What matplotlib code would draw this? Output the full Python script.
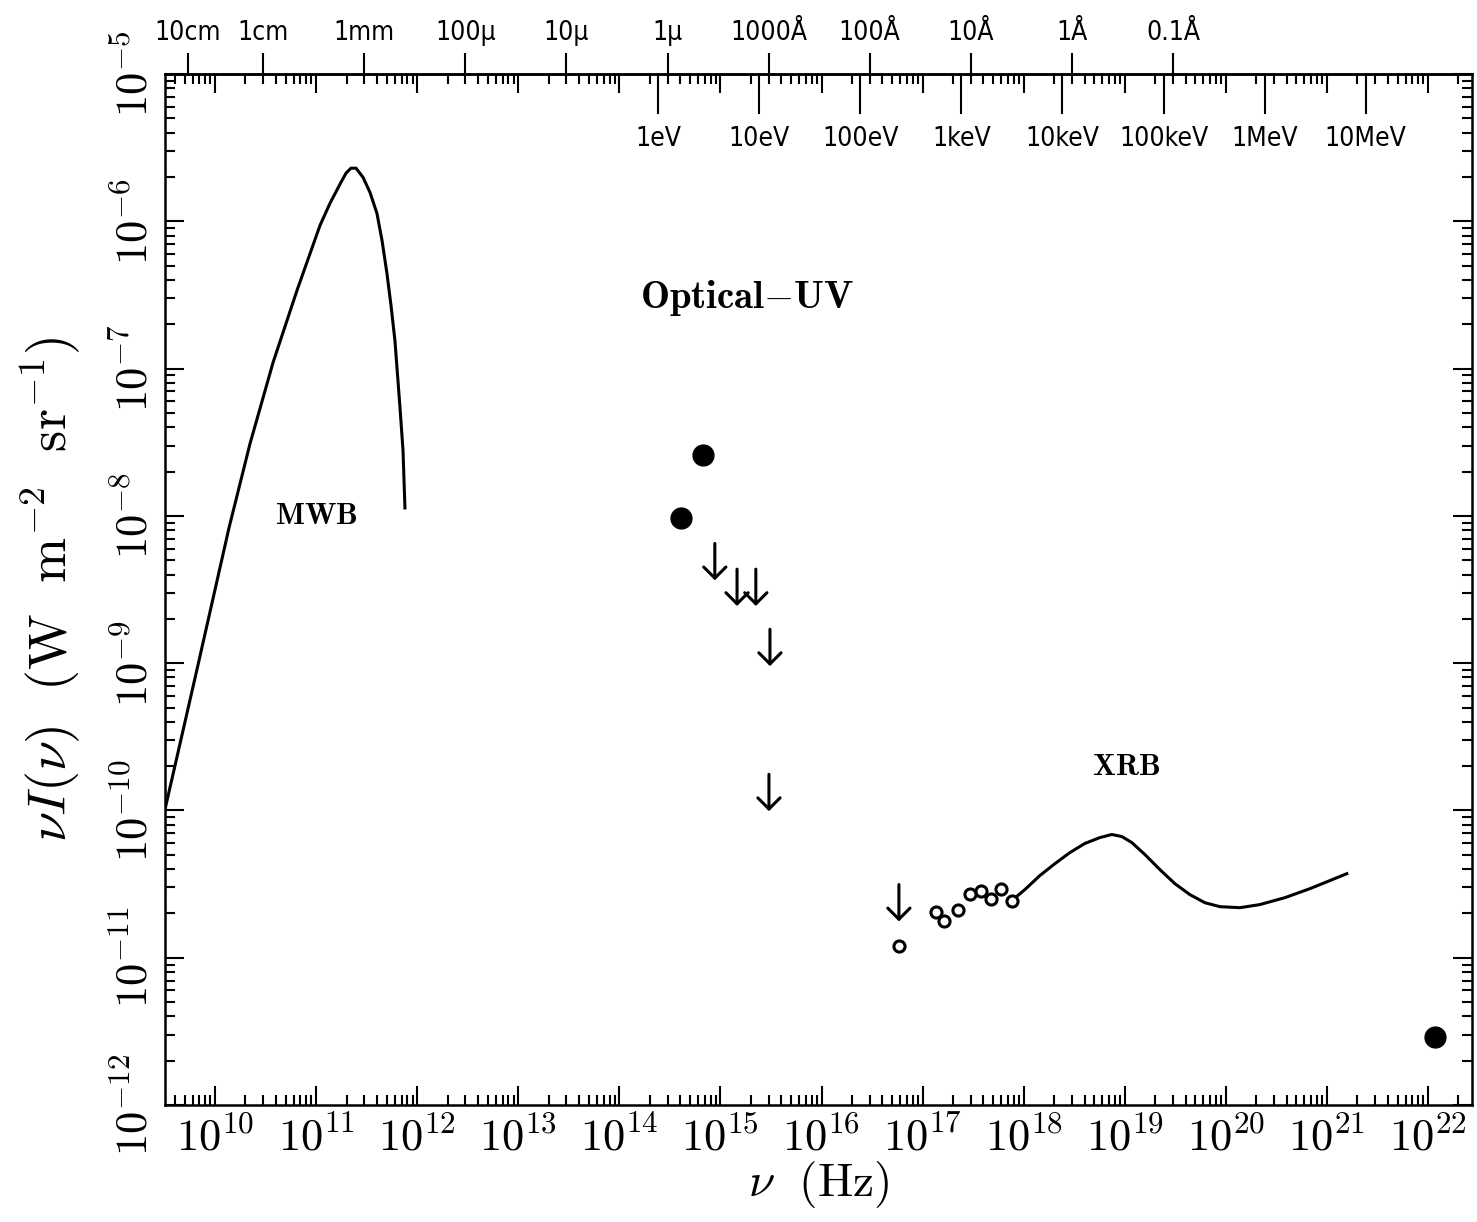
import numpy as np
import matplotlib.pyplot as plt
from matplotlib.ticker import FixedLocator, NullLocator, LogLocator

plt.rcParams['mathtext.fontset'] = 'cm'
plt.rcParams['font.family'] = ['DejaVu Serif']

# microwave background curve, log10 values
mwb_lognu = [9.505, 9.822, 10.138, 10.346, 10.574, 10.811, 11.039, 11.137, 11.236, 11.296,
             11.345, 11.395, 11.464, 11.533, 11.602, 11.652, 11.701, 11.741, 11.780, 11.830,
             11.860, 11.879]
mwb_logval = [-9.993, -9.041, -8.082, -7.510, -6.959, -6.469, -6.027, -5.878, -5.748, -5.673,
              -5.639, -5.639, -5.701, -5.803, -5.946, -6.129, -6.354, -6.571, -6.810, -7.265,
              -7.558, -7.946]

# optical-UV detections and upper limits
opt_nu = [4.06e14, 6.7e14]
opt_val = [9.7e-9, 2.6e-8]
lim_nu = [8.8e14, 1.46e15, 2.24e15, 3.09e15, 3.02e15, 5.83e16]
lim_val = [6.5e-9, 4.35e-9, 4.35e-9, 1.70e-9, 1.76e-10, 3.14e-11]

# soft X-ray points
xs_nu = [5.83e16, 1.36e17, 1.63e17, 2.24e17, 2.94e17, 3.78e17, 4.74e17, 5.96e17, 7.64e17]
xs_val = [1.21e-11, 2.06e-11, 1.79e-11, 2.12e-11, 2.69e-11, 2.86e-11, 2.52e-11, 2.94e-11, 2.44e-11]

# X-ray background curve, log10 values
xrb_lognu = [17.883, 18.012, 18.160, 18.309, 18.457, 18.605, 18.754, 18.872, 18.971, 19.070,
             19.199, 19.347, 19.496, 19.644, 19.792, 19.941, 20.139, 20.336, 20.584, 20.831,
             21.029, 21.197]
xrb_logval = [-10.612, -10.537, -10.442, -10.361, -10.286, -10.224, -10.184, -10.163, -10.177,
              -10.218, -10.299, -10.401, -10.497, -10.571, -10.626, -10.653, -10.660, -10.639,
              -10.592, -10.531, -10.476, -10.429]

# gamma-ray point
gam_nu = [1.17e22]
gam_val = [2.9e-12]

# top axis labels
wave_cm = np.array([10, 1, 0.1, 0.01, 1e-3, 1e-4, 1e-5, 1e-6, 1e-7, 1e-8, 1e-9])
wave_lab = ['10cm', '1cm', '1mm', '100µ', '10µ', '1µ', '1000Å', '100Å', '10Å', '1Å', '0.1Å']
en_ev = np.array([1, 10, 100, 1e3, 1e4, 1e5, 1e6, 1e7])
en_lab = ['1eV', '10eV', '100eV', '1keV', '10keV', '100keV', '1MeV', '10MeV']

wave_nu = 3e10 / wave_cm
wave_nu[0] = 5.4e9  # the original draws the 10cm mark just inside the frame
en_nu = en_ev * 2.418e14

fig = plt.figure(figsize=(14.77, 12.22), dpi=100)
ax = fig.add_axes([0.1117, 0.0957, 0.8849, 0.8437])
ax.set_xscale('log')
ax.set_yscale('log')
ax.set_xlim(10**9.505, 10**22.435)
ax.set_ylim(1e-12, 1e-5)

ax.plot(10**np.array(mwb_lognu), 10**np.array(mwb_logval), color='black', lw=2.2)
ax.plot(10**np.array(xrb_lognu), 10**np.array(xrb_logval), color='black', lw=2.2)
ax.plot(opt_nu, opt_val, 'o', color='black', ms=15)
ax.plot(gam_nu, gam_val, 'o', color='black', ms=15)
ax.plot(xs_nu, xs_val, 'o', mfc='white', mec='black', ms=8, mew=2.2)
for n, v in zip(lim_nu, lim_val):
    ax.annotate('', xy=(n, v * 10**-0.25), xytext=(n, v),
                arrowprops=dict(arrowstyle='->, head_length=0.4, head_width=0.4',
                                lw=2.2, color='black', shrinkA=0, shrinkB=0,
                                mutation_scale=20))

ax.text(1.0e11, 1e-8, r'$\mathbf{MWB}$', fontsize=22, ha='center', va='center')
ax.text(1.83e15, 3.0e-7, r'$\mathbf{Optical}$' + r'$-$' + r'$\mathbf{UV}$',
        fontsize=28, ha='center', va='center')
ax.text(1.03e19, 2.0e-10, r'$\mathbf{XRB}$', fontsize=22, ha='center', va='center')

for s in ax.spines.values():
    s.set_linewidth(1.8)

ax.xaxis.set_major_locator(FixedLocator([10.0**k for k in range(10, 23)]))
ax.set_xticklabels([r'$10^{%d}$' % k for k in range(10, 23)])
ax.xaxis.set_minor_locator(LogLocator(base=10, subs=np.arange(2, 10), numticks=50))
ax.yaxis.set_major_locator(FixedLocator([10.0**k for k in range(-12, -4)]))
ax.set_yticklabels([r'$10^{%d}$' % k for k in range(-12, -4)])
ax.yaxis.set_minor_locator(LogLocator(base=10, subs=np.arange(2, 10), numticks=50))
ax.tick_params(which='both', direction='in', top=True, right=True, width=1.5)
ax.tick_params(which='major', length=14, labelsize=32)
ax.tick_params(which='minor', length=7)
ax.tick_params(axis='x', pad=8)
ax.tick_params(axis='y', labelrotation=90, pad=6)
for t in ax.get_yticklabels():
    t.set_va('center')

ax.set_xlabel(r'$\nu\ \ (\mathrm{Hz})$', fontsize=34, labelpad=0)
ax.set_ylabel(r'$\nu I(\nu)\ \ (\mathrm{W\ \ m^{-2}\ \ sr^{-1}})$', fontsize=39, labelpad=22)

# wavelength scale above the frame
top = ax.secondary_xaxis('top')
top.set_xticks(wave_nu)
top.set_xticklabels(wave_lab)
top.xaxis.set_minor_locator(NullLocator())
top.tick_params(direction='out', length=15, width=1.5, pad=5, labelsize=19)
for t in top.get_xticklabels():
    t.set_fontfamily('DejaVu Sans')
    t.set_fontstretch('condensed')
top.spines['top'].set_linewidth(1.8)

# energy scale inside the frame
en = ax.secondary_xaxis('top')
en.set_xticks(en_nu)
en.set_xticklabels(en_lab)
en.xaxis.set_minor_locator(NullLocator())
en.tick_params(direction='in', length=29, width=1.5, pad=-56, labelsize=19)
for t in en.get_xticklabels():
    t.set_fontfamily('DejaVu Sans')
    t.set_fontstretch('condensed')

fig.savefig('out.png', dpi=100)
